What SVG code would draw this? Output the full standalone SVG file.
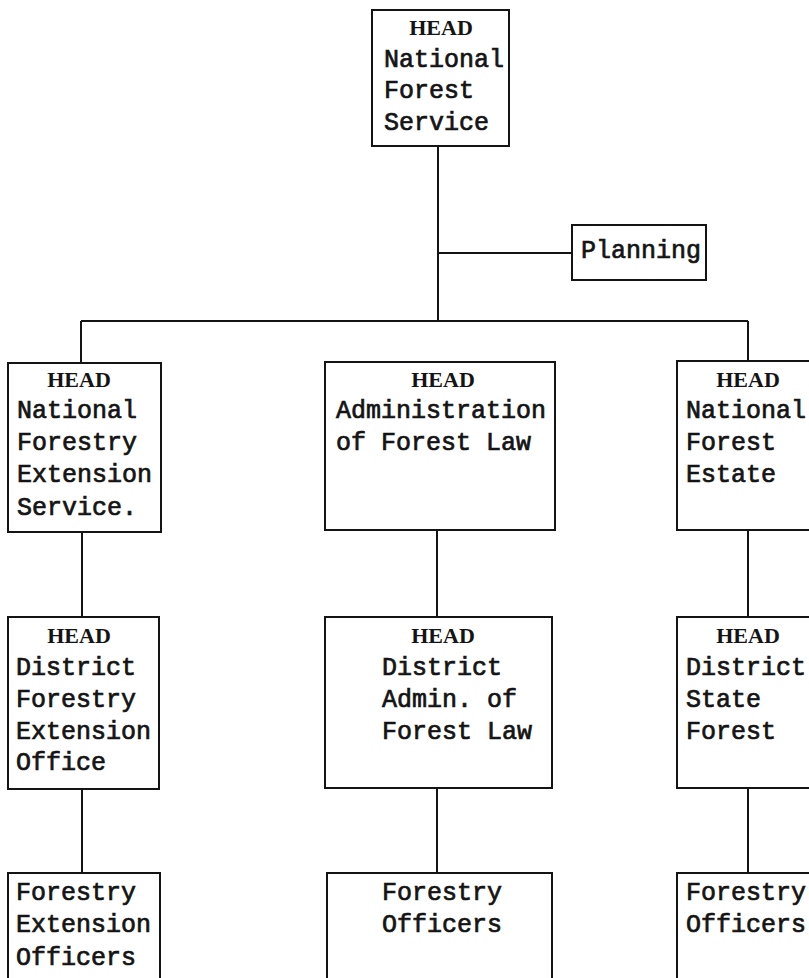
<svg xmlns="http://www.w3.org/2000/svg" width="809" height="978" viewBox="0 0 809 978">
  <style>
    .box { fill: #fff; stroke: #141414; stroke-width: 2; }
    .wire { fill: none; stroke: #141414; stroke-width: 2; }
    .t { font-family: "Liberation Mono", "Courier New", monospace; font-size: 25px; fill: #141414; stroke: #141414; stroke-width: 0.7; }
    .h { font-family: "Liberation Serif", "Times New Roman", serif; font-size: 22px; font-weight: bold; fill: #141414; text-anchor: middle; }
  </style>
  <rect width="809" height="978" fill="#fff"/>

  <!-- connectors -->
  <g id="connectors" class="wire">
    <path d="M438 146 V322"/>
    <path d="M438 253 H572"/>
    <path d="M81 321 H748"/>
    <path d="M81 321 V363"/>
    <path d="M748 321 V361"/>
    <path d="M82 532 V617"/>
    <path d="M437 530 V617"/>
    <path d="M748 530 V617"/>
    <path d="M82 789 V873"/>
    <path d="M437 788 V873"/>
    <path d="M748 788 V873"/>
  </g>

  <!-- top -->
  <g id="national-forest-service">
    <rect class="box" x="372" y="10" width="137" height="136"/>
    <text class="h" x="441" y="35">HEAD</text>
    <text class="t" x="384" y="67">National</text>
    <text class="t" x="384" y="98">Forest</text>
    <text class="t" x="384" y="130">Service</text>
  </g>

  <g id="planning">
    <rect class="box" x="572" y="225" width="134" height="55"/>
    <text class="t" x="581" y="258">Planning</text>
  </g>

  <!-- row 1 -->
  <g id="extension-service">
    <rect class="box" x="8" y="363" width="153" height="169"/>
    <text class="h" x="79" y="387">HEAD</text>
    <text class="t" x="17" y="418">National</text>
    <text class="t" x="17" y="450">Forestry</text>
    <text class="t" x="17" y="482">Extension</text>
    <text class="t" x="17" y="515">Service.</text>
  </g>

  <g id="forest-law">
    <rect class="box" x="325" y="362" width="230" height="168"/>
    <text class="h" x="443" y="387">HEAD</text>
    <text class="t" x="336" y="418">Administration</text>
    <text class="t" x="336" y="450">of Forest Law</text>
  </g>

  <g id="forest-estate">
    <rect class="box" x="677" y="361" width="160" height="169"/>
    <text class="h" x="748" y="387">HEAD</text>
    <text class="t" x="686" y="418">National</text>
    <text class="t" x="686" y="450">Forest</text>
    <text class="t" x="686" y="482">Estate</text>
  </g>

  <!-- row 2 -->
  <g id="district-extension-office">
    <rect class="box" x="8" y="617" width="151" height="172"/>
    <text class="h" x="79" y="643">HEAD</text>
    <text class="t" x="16" y="675">District</text>
    <text class="t" x="16" y="707">Forestry</text>
    <text class="t" x="16" y="739">Extension</text>
    <text class="t" x="16" y="770">Office</text>
  </g>

  <g id="district-forest-law">
    <rect class="box" x="325" y="617" width="227" height="171"/>
    <text class="h" x="443" y="643">HEAD</text>
    <text class="t" x="382" y="675">District</text>
    <text class="t" x="382" y="707">Admin. of</text>
    <text class="t" x="382" y="739">Forest Law</text>
  </g>

  <g id="district-state-forest">
    <rect class="box" x="677" y="617" width="160" height="171"/>
    <text class="h" x="748" y="643">HEAD</text>
    <text class="t" x="686" y="675">District</text>
    <text class="t" x="686" y="707">State</text>
    <text class="t" x="686" y="739">Forest</text>
  </g>

  <!-- row 3 -->
  <g id="extension-officers">
    <rect class="box" x="8" y="873" width="152" height="130"/>
    <text class="t" x="16" y="900">Forestry</text>
    <text class="t" x="16" y="932">Extension</text>
    <text class="t" x="16" y="965">Officers</text>
  </g>

  <g id="law-officers">
    <rect class="box" x="327" y="873" width="225" height="130"/>
    <text class="t" x="382" y="900">Forestry</text>
    <text class="t" x="382" y="932">Officers</text>
  </g>

  <g id="estate-officers">
    <rect class="box" x="677" y="873" width="160" height="130"/>
    <text class="t" x="686" y="900">Forestry</text>
    <text class="t" x="686" y="932">Officers</text>
  </g>
</svg>
